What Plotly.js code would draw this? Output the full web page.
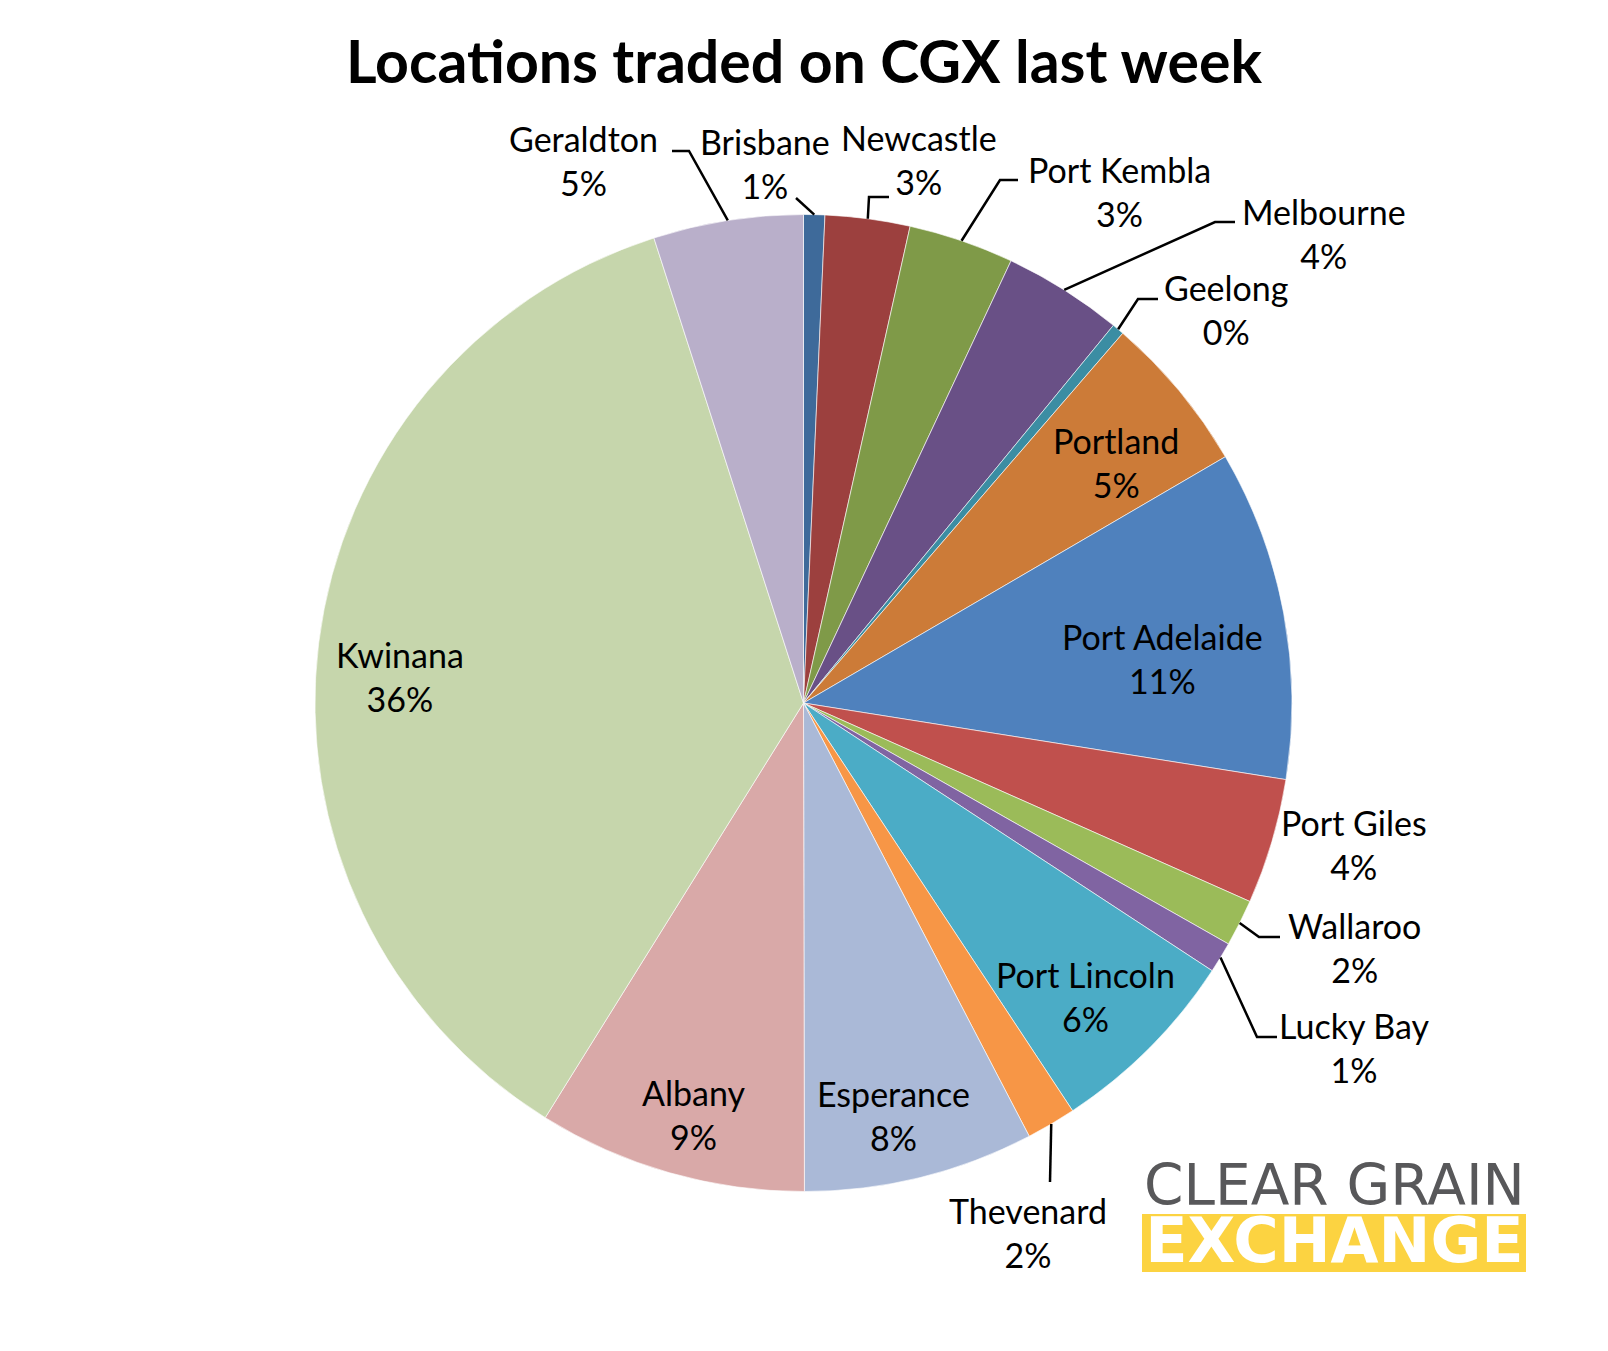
<!DOCTYPE html>
<html>
<head>
<meta charset="utf-8">
<script src="https://cdn.plot.ly/plotly-3.0.1.min.js"></script>
<style>
  html, body { margin: 0; padding: 0; background: #ffffff; }
  #chart { width: 1608px; height: 1351px; }
</style>
</head>
<body>
<div id="chart"></div>
<script>
// ---------------- data ----------------
const locations = ["Brisbane", "Newcastle", "Port Kembla", "Melbourne", "Geelong", "Portland",
  "Port Adelaide", "Port Giles", "Wallaroo", "Lucky Bay", "Port Lincoln", "Thevenard",
  "Esperance", "Albany", "Kwinana", "Geraldton"];
const shares = [0.70, 2.80, 3.48, 3.95, 0.40, 5.25, 10.91, 4.15, 1.55, 1.02, 6.48, 1.64,
  7.61, 8.89, 36.16, 4.95];
const sliceColors = ["#3E6A9A", "#9C403E", "#7F9A48", "#695086", "#3B8DA3", "#CC7B38",
  "#4F81BD", "#C0504D", "#9BBB59", "#8064A2", "#4BACC6", "#F79646",
  "#AAB9D7", "#D9A9A8", "#C6D6AC", "#B9AFCA"];
const chartTitle = "Locations traded on CGX last week";
const logoTop = "CLEAR GRAIN";
const logoBottom = "EXCHANGE";

// ---------------- layout config (pixels) ----------------
const W = 1608, H = 1351;
const CX = 803.5, CY = 703, R = 488.5;
// label block centres
const labelPos = [[765, 163], [919, 159], [1119, 191], [1324, 234], [1226, 309], [1116, 462],
  [1162, 659], [1354, 845], [1354, 947], [1354, 1047], [1085, 996], [1028, 1232],
  [893, 1115], [693, 1114], [400, 677], [583, 161]];
// leader line points after the rim point (null = no leader)
const leaders = [[[796, 198]], [[869, 197], [889, 197]], [[1000, 180], [1018, 180]],
  [[1215, 222], [1235, 222]], [[1138, 299], [1158, 299]], null, null, null,
  [[1259, 937], [1280, 937]], [[1257, 1037], [1277, 1037]], null, [[1050, 1182]],
  null, null, null, [[689, 151], [672, 151]]];

const px = x => x / W;
const py = y => 1 - y / H;

const total = shares.reduce((a, b) => a + b, 0);
const annotations = [];
const shapes = [];
let cum = 0;
locations.forEach((name, i) => {
  const mid = (cum + shares[i] / 2) / total * 2 * Math.PI;
  cum += shares[i];
  const pct = Math.round(shares[i] / total * 100);
  annotations.push({
    x: px(labelPos[i][0]), y: py(labelPos[i][1]), xref: 'paper', yref: 'paper',
    xanchor: 'center', yanchor: 'middle', showarrow: false, align: 'center',
    text: name + '<br>' + pct + '%',
    font: { family: 'Lato, sans-serif', size: 34, color: '#000000' }
  });
  if (leaders[i]) {
    const rx = CX + R * Math.sin(mid), ry = CY - R * Math.cos(mid);
    let d = 'M ' + px(rx) + ' ' + py(ry);
    leaders[i].forEach(p => { d += ' L ' + px(p[0]) + ' ' + py(p[1]); });
    shapes.push({ type: 'path', xref: 'paper', yref: 'paper', path: d,
      line: { color: '#000000', width: 2.5 } });
  }
});

// logo
shapes.push({ type: 'rect', xref: 'paper', yref: 'paper', x0: px(1142), x1: px(1526),
  y0: py(1272), y1: py(1214), fillcolor: '#FCD341', line: { width: 0 } });
annotations.push({ x: px(1334), y: py(1215), xref: 'paper', yref: 'paper', showarrow: false,
  xanchor: 'center', yanchor: 'middle', align: 'center',
  text: '<span style="font-size:56.5px;color:#58585A">' + logoTop + '</span><br>' +
        '<span style="font-size:62px;color:#FFFFFF"><b>' + logoBottom + '</b></span>',
  font: { family: 'DejaVu Sans, sans-serif', size: 44, color: '#58585A' } });

const trace = {
  type: 'pie',
  labels: locations,
  values: shares,
  sort: false,
  direction: 'clockwise',
  rotation: 0,
  textinfo: 'none',
  hoverinfo: 'none',
  marker: { colors: sliceColors, line: { color: 'rgba(255,255,255,0.6)', width: 1 } },
  domain: { x: [px(CX - R), px(CX + R)], y: [py(CY + R), py(CY - R)] }
};

const layout = {
  width: W, height: H,
  margin: { l: 0, r: 0, t: 0, b: 0 },
  paper_bgcolor: '#ffffff',
  showlegend: false,
  title: { text: chartTitle, x: 0.5, xanchor: 'center', xref: 'paper',
    y: 1 - 62 / H, yanchor: 'middle', yref: 'container',
    font: { family: 'Lato, sans-serif', size: 59, weight: 700, color: '#000000' } },
  annotations: annotations,
  shapes: shapes
};

Plotly.newPlot('chart', [trace], layout, { staticPlot: true });
</script>
</body>
</html>
